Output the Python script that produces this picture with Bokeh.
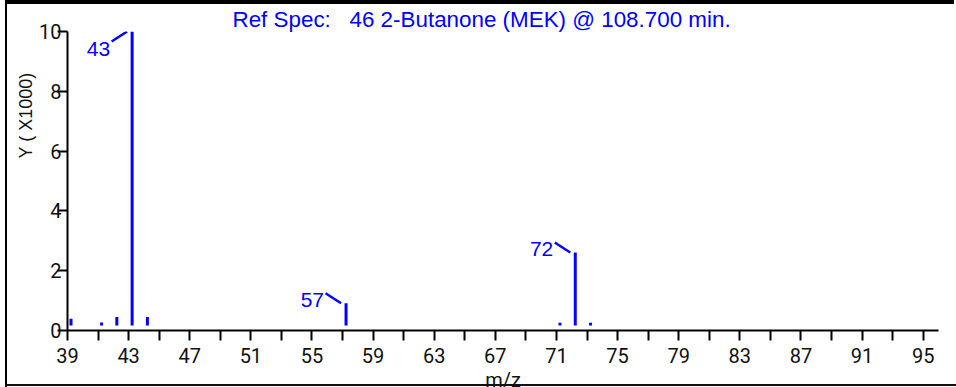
from bokeh.plotting import figure
from bokeh.models import ColumnDataSource, FixedTicker, Range1d, Title, GlobalInlineStyleSheet
from bokeh.core.properties import value
from bokeh.embed import file_html
from bokeh.resources import INLINE

# ---- data ----
MZ = [39, 41, 42, 43, 44, 57, 71, 72, 73]
ABUND_K = [0.39, 0.27, 0.45, 10.0, 0.45, 0.91, 0.26, 2.61, 0.26]   # Y ( X1000)
LABELED_MZ = [43, 57, 72]
X_TICKS = list(range(39, 96, 2))
X_LABELED = list(range(39, 96, 4))
Y_TICKS = [0, 2, 4, 6, 8, 10]
TITLE = "Ref Spec:\u00a0\u00a0 46 2-Butanone (MEK) @ 108.700 min."
X_LABEL = "m/z"
Y_LABEL = "Y ( X1000)"
X_START, X_END = 39, 96
Y_START, Y_END = 0, 10

# ---- layout / style ----
FRAME_W, FRAME_H = 871, 299
BL, BR, BT, BB = 60, 18, 27, 64
W, H = BL + FRAME_W + BR, BT + FRAME_H + BB
BLUE = "#0000ff"
TICK_FONT = "Roboto"
TXT_FONT = "Liberation Sans"

px_x = FRAME_W / (X_END - X_START)
px_y = FRAME_H / (Y_END - Y_START)

p = figure(width=W, height=H, output_backend="svg", toolbar_location=None,
           x_range=Range1d(X_START, X_END), y_range=Range1d(Y_START, Y_END),
           min_border_left=BL, min_border_right=BR, min_border_top=BT, min_border_bottom=BB)
p.styles = {"border-top": "4px solid black", "border-left": "2px solid black",
            "margin-left": "5px"}
p.stylesheets = [GlobalInlineStyleSheet(css=(
    "html, body { overflow: hidden; margin: 0; }"
    "body::after { content: ''; position: fixed; left: 5px; right: 0; top: 384px;"
    " height: 2px; background: #111; z-index: 10; }"))]
p.grid.visible = False
p.outline_line_color = None
p.background_fill_color = "white"
p.border_fill_color = "white"

# title (blue, above the frame)
p.title.text = TITLE
p.title.align = "left"
p.title.offset = 165
p.title.standoff = 0
p.title.text_font = TXT_FONT
p.title.text_font_size = "22.4px"
p.title.text_font_style = "normal"
p.title.text_color = BLUE

for ax in (p.xaxis[0], p.yaxis[0]):
    ax.axis_line_width = 2
    ax.axis_line_color = "black"
    ax.major_tick_line_width = 2
    ax.major_tick_line_color = "black"
    ax.major_tick_out = 10
    ax.major_tick_in = 0
    ax.minor_tick_line_color = None
    ax.major_label_text_font = TICK_FONT
    ax.major_label_text_font_size = "20px"
    ax.major_label_text_color = "#111111"

p.xaxis.ticker = FixedTicker(ticks=X_TICKS)
p.xaxis.major_label_overrides = {t: ("" if t not in X_LABELED else str(t)) for t in X_TICKS}
p.xaxis.major_label_standoff = 7
p.xaxis.axis_label = X_LABEL
p.xaxis.axis_label_standoff = 2
p.xaxis.axis_label_text_font = TICK_FONT
p.xaxis.axis_label_text_font_size = "20px"
p.xaxis.axis_label_text_font_style = "normal"
p.xaxis.axis_label_text_color = "#111111"

p.yaxis.ticker = FixedTicker(ticks=Y_TICKS)
p.yaxis.major_label_standoff = -4

# y-axis label as a side title (reads bottom to top)
p.add_layout(Title(text=Y_LABEL, align="right", offset=41, standoff=2,
                   text_font=TXT_FONT, text_font_size="18px", text_font_style="normal",
                   text_color="#111111"), "left")

# bars
BAR_SHIFT = 3.5 / px_x
BASE = 5 / px_y
bar_x = [m + BAR_SHIFT for m in MZ]
src = ColumnDataSource(dict(x=bar_x, y0=[Y_START + BASE] * len(MZ), y1=ABUND_K))
p.segment(x0="x", y0="y0", x1="x", y1="y1", source=src, line_color=BLUE, line_width=3)

# peak labels with leader lines
ymax = max(ABUND_K)
lx0, ly0, lx1, ly1, tx, ty, tt = [], [], [], [], [], [], []
for m in LABELED_MZ:
    i = MZ.index(m)
    top = ABUND_K[i]
    ex = bar_x[i] - 5 / px_x
    sx = ex - 15.5 / px_x
    d = -1 if top >= ymax else 1
    sy = top + d * 10 / px_y
    lx0.append(sx); ly0.append(sy); lx1.append(ex); ly1.append(top)
    tx.append(sx); ty.append(sy); tt.append(str(m))
p.segment(x0=lx0, y0=ly0, x1=lx1, y1=ly1, line_color=BLUE, line_width=2.5)
p.text(x=tx, y=ty, text=tt, text_align="right", text_baseline="top",
       x_offset=-1.5, y_offset=0, text_color=BLUE,
       text_font=value(TXT_FONT), text_font_size="21px")

open("out.html", "w").write(file_html(p, INLINE))
